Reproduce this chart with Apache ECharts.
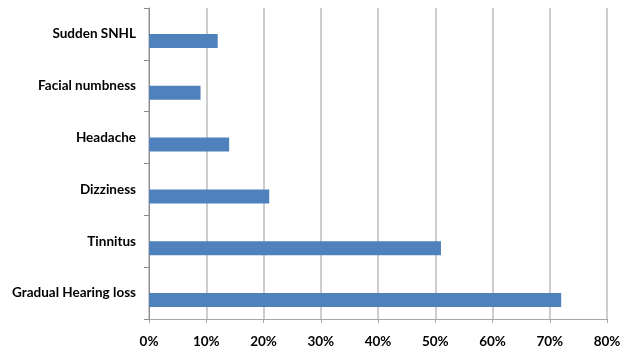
<!DOCTYPE html>
<html>
<head>
<meta charset="utf-8">
<script src="https://cdn.jsdelivr.net/npm/echarts@6/dist/echarts.min.js"></script>
<style>html,body{margin:0;padding:0;background:#fff}#c{width:630px;height:355px}</style>
</head>
<body>
<div id="c"></div>
<script>
const categories = ['Gradual Hearing loss', 'Tinnitus', 'Dizziness', 'Headache', 'Facial numbness', 'Sudden SNHL'];
const values = [72, 51, 21, 14, 9, 12];
const emptySeries = [null, null, null, null, null, null];
const xTicks = [0, 10, 20, 30, 40, 50, 60, 70, 80];

const chart = echarts.init(document.getElementById('c'));
const font = 'Lato, "Open Sans", sans-serif';
chart.setOption({
  animation: false,
  grid: { left: 149, right: 23, top: 8, bottom: 36 },
  xAxis: {
    type: 'value', min: 0, max: 80, interval: 10,
    axisLine: { show: true, lineStyle: { color: '#a6a6a6', width: 1 } },
    axisTick: { show: true, length: 4, lineStyle: { color: '#a6a6a6' } },
    splitLine: { show: true, lineStyle: { color: '#bdbdbd', width: 1.5 } },
    axisLabel: { formatter: v => xTicks.includes(v) ? v + '%' : '', color: '#000', fontWeight: 'bold', fontSize: 13.5, fontFamily: font, margin: 16 }
  },
  yAxis: {
    type: 'category', data: categories,
    axisLine: { show: true, lineStyle: { color: '#8c8c8c', width: 1 } },
    axisTick: { show: true, length: 5, lineStyle: { color: '#8c8c8c' } },
    axisLabel: { color: '#000', fontWeight: 'bold', fontSize: 13.5, fontFamily: font, margin: 13, padding: [4, 0, 0, 0] }
  },
  series: [
    { type: 'bar', data: emptySeries, barWidth: 14, barGap: '0%', itemStyle: { color: '#c0504d' } },
    { type: 'bar', data: values, barWidth: 14, barGap: '0%', itemStyle: { color: '#4f81bd' } }
  ]
});
</script>
</body>
</html>
